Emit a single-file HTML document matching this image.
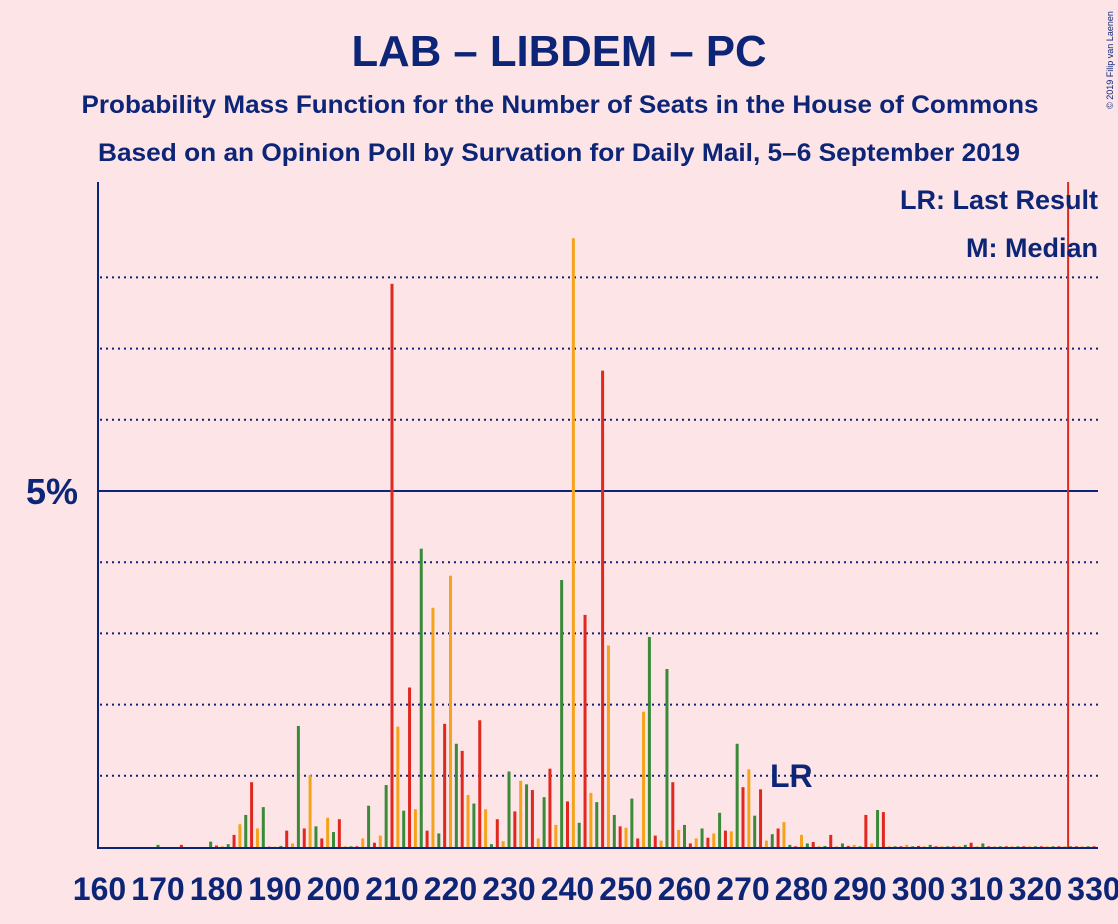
<!DOCTYPE html>
<html><head><meta charset="utf-8"><style>
html,body{margin:0;padding:0;background:#fde4e6;}
svg{display:block;font-family:"Liberation Sans",sans-serif;}
</style></head><body>
<svg id="chart" width="1118" height="924" viewBox="0 0 1118 924" xmlns="http://www.w3.org/2000/svg">
<rect width="1118" height="924" fill="#fde4e6"/>
<text x="559" y="66" text-anchor="middle" font-size="44" font-weight="bold" fill="#0c2577" textLength="415" lengthAdjust="spacingAndGlyphs">LAB – LIBDEM – PC</text>
<text x="560" y="113" text-anchor="middle" font-size="25" font-weight="bold" fill="#0c2577" textLength="957" lengthAdjust="spacingAndGlyphs">Probability Mass Function for the Number of Seats in the House of Commons</text>
<text x="559" y="161" text-anchor="middle" font-size="25" font-weight="bold" fill="#0c2577" textLength="922" lengthAdjust="spacingAndGlyphs">Based on an Opinion Poll by Survation for Daily Mail, 5–6 September 2019</text>
<text x="1113" y="60" font-size="9" fill="#0c2577" transform="rotate(-90 1113 60)" text-anchor="middle">© 2019 Filip van Laenen</text>
<g id="grid"></g>
<g id="bars"></g>
<g id="axes"></g>
<text x="1098" y="209" text-anchor="end" font-size="27" font-weight="bold" fill="#0c2577">LR: Last Result</text>
<text x="1098" y="257" text-anchor="end" font-size="27" font-weight="bold" fill="#0c2577">M: Median</text>
</svg>
<script>
const seats = [];
for (let s = 160; s <= 330; s++) seats.push(s);
const probs = [
0,0,0,0,0,0,0,0,0,0, 0.03,0,0,0,0.03,0,0,0,0,0.075,
0.02,0.01,0.04,0.17,0.32,0.45,0.91,0.26,0.56,0.005,
0.005,0.015,0.23,0.05,1.70,0.26,1.01,0.29,0.12,0.41,
0.21,0.39,0.01,0.01,0.01,0.12,0.58,0.06,0.16,0.87,
7.91,1.69,0.51,2.24,0.53,4.19,0.23,3.36,0.19,1.73,
3.81,1.45,1.35,0.73,0.61,1.78,0.53,0.04,0.39,0.08,
1.06,0.50,0.93,0.88,0.80,0.12,0.70,1.10,0.31,3.75,
0.64,8.55,0.34,3.26,0.76,0.63,6.69,2.83,0.45,0.29,
0.27,0.68,0.12,1.90,2.95,0.16,0.09,2.50,0.91,0.24,
0.31,0.05,0.12,0.26,0.13,0.19,0.48,0.23,0.22,1.45,
0.84,1.09,0.44,0.81,0.09,0.18,0.26,0.35,0.03,0.01,
0.17,0.05,0.07,0.01,0.015,0.17,0.01,0.05,0.015,0.03,
0.01,0.45,0.05,0.52,0.49,0.01,0.01,0.01,0.03,0.01,
0.015,0.01,0.03,0.01,0.01,0.01,0.01,0.01,0.03,0.06,
0.01,0.05,0.01,0.01,0.01,0.01,0.01,0.01,0.01,0.01,
0.01,0.01,0.01,0.01,0.01,0.01,0.01,0.01,0.01,0.01,
0.01,0.01,0.01,0.01,0.01,0.01,0.01,0.01,0.01,0.01,0
];
const xTicks = [160,170,180,190,200,210,220,230,240,250,260,270,280,290,300,310,320,330];
const yDotted = [1,2,3,4,6,7,8];
const ySolid = [5];
const majority = 326;
const lastResult = 277;
const colors = ["#e0281f","#f5a31a","#3a8a3a"];
const NS = "http://www.w3.org/2000/svg";
const x = s => 99.5 + (s - 160) * 5.85;
const y = p => 847 - p * 71.2;
function mk(tag, attrs, parent) {
  const e = document.createElementNS(NS, tag);
  for (const k in attrs) e.setAttribute(k, attrs[k]);
  parent.appendChild(e);
  return e;
}
const grid = document.getElementById('grid');
const bars = document.getElementById('bars');
const axes = document.getElementById('axes');
yDotted.forEach(v => {
  const l = mk('line', {x1: 100, x2: 1098, y1: y(v), y2: y(v), stroke: '#0c2577', 'stroke-width': 2, 'stroke-dasharray': '2 4'}, grid);
  
  
});
ySolid.forEach(v => {
  const l = mk('line', {x1: 98, x2: 1098, y1: y(v), y2: y(v), stroke: '#0c2577', 'stroke-width': 2}, grid);
  
  
  const t = mk('text', {x: 78, y: y(v) + 13, 'text-anchor': 'end', 'font-size': 36, 'font-weight': 'bold', fill: '#0c2577'}, axes);
  t.textContent = v + '%';
  
  
});
seats.forEach((s, i) => {
  const p = probs[i] || 0;
  if (p <= 0) return;
  const r = mk('rect', {x: x(s) - 1.5, y: y(p), width: 3, height: 847 - y(p), fill: colors[s % 3]}, bars);
  
  
});
const ml = mk('line', {x1: x(majority) - 2.5, x2: x(majority) - 2.5, y1: 182, y2: 847, stroke: '#e0281f', 'stroke-width': 2}, axes);


const lr = mk('text', {x: x(lastResult) - 14, y: 787, 'font-size': 32, 'font-weight': 'bold', fill: '#0c2577'}, axes);
lr.textContent = 'LR';


const ya = mk('line', {x1: 98, x2: 98, y1: 182, y2: 848, stroke: '#0c2577', 'stroke-width': 2}, axes);


const xa = mk('line', {x1: 97, x2: 1098, y1: 848, y2: 848, stroke: '#0c2577', 'stroke-width': 2}, axes);


xTicks.forEach(s => {
  const t = mk('text', {x: x(s), y: 900, 'text-anchor': 'middle', 'font-size': 32, 'font-weight': 'bold', fill: '#0c2577'}, axes);
  t.textContent = s;
  
  
});
</script>
</body></html>
